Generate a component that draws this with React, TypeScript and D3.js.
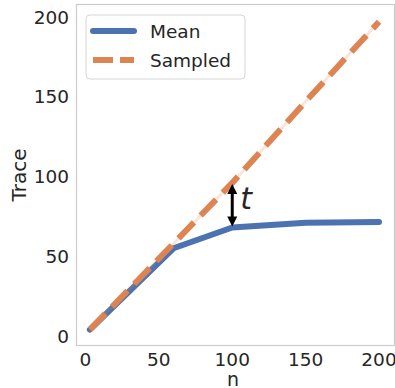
import React, { useRef, useEffect } from "react";
import * as d3 from "d3";

const nValues = [3, 60, 100, 150, 200];
const meanTrace = [4, 55, 68, 71, 71.5];
const sampledTrace = [4, 58, 96, 147, 197];
const xTicks = [0, 50, 100, 150, 200];
const yTicks = [0, 50, 100, 150, 200];
const legendLabels = ["Mean", "Sampled"];
const arrowN = 100;
const arrowLabel = "t";

const BLUE = "#4c72b0";
const ORANGE = "#dd8452";
const TEXT = "#262626";
const FONT = "DejaVu Sans";

const App = () => {
    const svgRef = useRef<SVGSVGElement>(null);
    const width = 395;
    const height = 388;
    const frame = { left: 76.5, right: 394.5, top: 4.5, bottom: 345.5 };

    useEffect(() => {
        const svg = d3.select(svgRef.current);
        svg.selectAll("*").remove();

        const x = d3.scaleLinear().domain([0, 200]).range([85.5, 379]);
        const y = d3.scaleLinear().domain([0, 200]).range([336, 17]);

        // frame
        svg.append("rect")
            .attr("x", frame.left).attr("y", frame.top)
            .attr("width", frame.right - frame.left).attr("height", frame.bottom - frame.top)
            .attr("fill", "white").attr("stroke", "#cccccc").attr("stroke-width", 1.2);

        // tick labels
        svg.append("g").selectAll("text").data(yTicks).join("text")
            .attr("x", 69).attr("y", d => y(d)).attr("dy", "0.36em")
            .attr("text-anchor", "end").attr("font-family", FONT).attr("font-size", 18.5)
            .attr("fill", TEXT).text(d => d);
        svg.append("g").selectAll("text").data(xTicks).join("text")
            .attr("x", d => x(d)).attr("y", 366)
            .attr("text-anchor", "middle").attr("font-family", FONT).attr("font-size", 18.5)
            .attr("fill", TEXT).text(d => d);

        // axis labels
        svg.append("text")
            .attr("transform", `translate(26,${(frame.top + frame.bottom) / 2}) rotate(-90)`)
            .attr("text-anchor", "middle").attr("font-family", FONT).attr("font-size", 20)
            .attr("fill", TEXT).text("Trace");
        svg.append("text")
            .attr("x", 233).attr("y", 386)
            .attr("text-anchor", "middle").attr("font-family", FONT).attr("font-size", 19)
            .attr("fill", TEXT).text("n");

        const mk = (vals: number[]) => d3.line<number>()
            .x((d, i) => x(nValues[i]))
            .y(d => y(d))(vals);

        svg.append("path").attr("d", mk(meanTrace))
            .attr("fill", "none").attr("stroke", BLUE).attr("stroke-width", 6)
            .attr("stroke-linecap", "round").attr("stroke-linejoin", "round");

        // faint band under sampled line
        svg.append("path").attr("d", mk(sampledTrace))
            .attr("fill", "none").attr("stroke", ORANGE).attr("stroke-opacity", 0.2)
            .attr("stroke-width", 3);
        svg.append("path").attr("d", mk(sampledTrace))
            .attr("fill", "none").attr("stroke", ORANGE).attr("stroke-width", 6)
            .attr("stroke-dasharray", "22.2 9.6");

        // double arrow
        const i = nValues.indexOf(arrowN);
        const ax = x(arrowN);
        const yTop = y(sampledTrace[i]) + 1;
        const yBot = y(meanTrace[i]) - 1;
        svg.append("line").attr("x1", ax).attr("x2", ax)
            .attr("y1", yTop + 6).attr("y2", yBot - 6)
            .attr("stroke", "black").attr("stroke-width", 3);
        svg.append("path")
            .attr("d", `M${ax},${yTop} L${ax - 5},${yTop + 10} L${ax + 5},${yTop + 10} Z`)
            .attr("fill", "black");
        svg.append("path")
            .attr("d", `M${ax},${yBot} L${ax - 5},${yBot - 10} L${ax + 5},${yBot - 10} Z`)
            .attr("fill", "black");
        svg.append("text")
            .attr("x", ax + 8).attr("y", 209)
            .attr("font-family", FONT).attr("font-style", "italic").attr("font-size", 30)
            .attr("fill", TEXT).text(arrowLabel);

        // legend
        const lg = svg.append("g");
        lg.append("rect").attr("x", 86).attr("y", 15).attr("width", 159).attr("height", 64)
            .attr("rx", 4).attr("fill", "white").attr("fill-opacity", 0.8)
            .attr("stroke", "#d6d6d6").attr("stroke-width", 1);
        lg.append("line").attr("x1", 93).attr("x2", 134).attr("y1", 31).attr("y2", 31)
            .attr("stroke", BLUE).attr("stroke-width", 6).attr("stroke-linecap", "round");
        lg.append("line").attr("x1", 93).attr("x2", 134).attr("y1", 60).attr("y2", 60)
            .attr("stroke", ORANGE).attr("stroke-width", 6).attr("stroke-dasharray", "20 7");
        lg.selectAll("text.lbl").data(legendLabels).join("text")
            .attr("class", "lbl")
            .attr("x", 150).attr("y", (d, k) => 38 + k * 29)
            .attr("font-family", FONT).attr("font-size", 18.5).attr("fill", TEXT)
            .text(d => d);
    }, []);

    return (
        <svg ref={svgRef} width={width} height={height}
            style={{ position: "absolute", left: 0, top: 0 }} />
    );
};

export default App;
